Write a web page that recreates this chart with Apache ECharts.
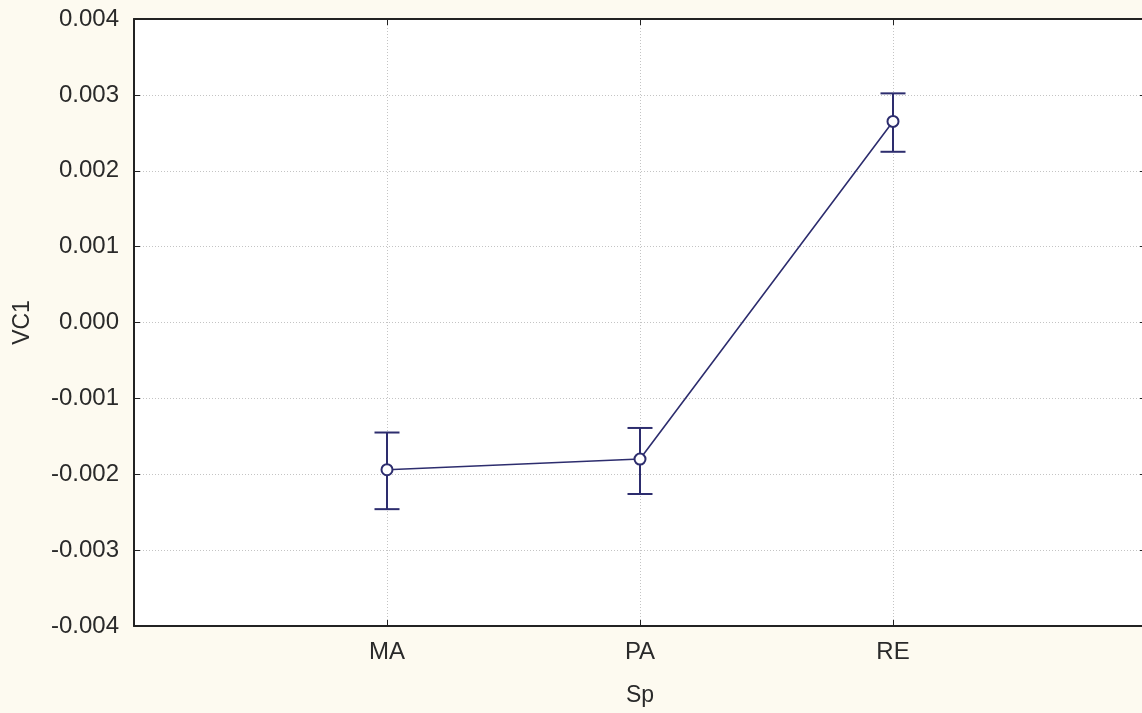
<!DOCTYPE html>
<html>
<head>
<meta charset="utf-8">
<script src="https://cdn.jsdelivr.net/npm/echarts@6/dist/echarts.min.js"></script>
<style>
html,body{margin:0;padding:0;background:#fdfaf0;}
#chart{width:1142px;height:713px;}
</style>
</head>
<body>
<div id="chart"></div>
<script>
const categories = ['MA', 'PA', 'RE'];
const catPositions = [1, 2, 3];
const means = [-0.00194, -0.00180, 0.00265];
const upper = [-0.00145, -0.00139, 0.00302];
const lower = [-0.00246, -0.00226, 0.00225];
const yTicks = [-0.004, -0.003, -0.002, -0.001, 0, 0.001, 0.002, 0.003, 0.004];

const navy = '#2d2d6e';
const chart = echarts.init(document.getElementById('chart'));

const meanData = catPositions.map((x, i) => [x, means[i]]);
const errData = catPositions.map((x, i) => [x, lower[i], upper[i]]);
const font = 'Liberation Sans';
const txt = '#2a2a2a';
const frameLine = { show: true, onZero: false, lineStyle: { color: '#222', width: 2 } };
const frameTick = { show: true, inside: true, length: 6, lineStyle: { color: '#222' } };

chart.setOption({
  backgroundColor: '#fdfaf0',
  animation: false,
  grid: { left: 134, top: 19, width: 1012, height: 607, outerBoundsMode: 'none', containLabel: false,
          show: true, backgroundColor: '#ffffff', borderWidth: 0 },
  xAxis: [{
    type: 'value', min: 0, max: 4, interval: 1,
    name: 'Sp', nameLocation: 'middle', nameGap: 58,
    nameTextStyle: { fontFamily: font, fontSize: 23, color: txt },
    axisLine: frameLine,
    axisTick: frameTick,
    axisLabel: {
      fontFamily: font, fontSize: 24, color: txt, margin: 14,
      formatter: v => { const i = catPositions.indexOf(v); return i >= 0 ? categories[i] : ''; }
    },
    splitLine: { show: true, lineStyle: { color: '#c4c4c4', type: [1, 2], width: 1 } }
  }, {
    type: 'value', position: 'top', min: 0, max: 4, interval: 1,
    axisLine: frameLine, axisTick: frameTick,
    axisLabel: { show: false }, splitLine: { show: false }
  }],
  yAxis: [{
    type: 'value', min: yTicks[0], max: yTicks[yTicks.length - 1], interval: 0.001,
    name: 'VC1', nameLocation: 'middle', nameGap: 100, nameRotate: 90,
    nameTextStyle: { fontFamily: font, fontSize: 23, color: txt },
    axisLine: frameLine,
    axisTick: frameTick,
    axisLabel: { fontFamily: font, fontSize: 24, color: txt, margin: 15,
      formatter: v => v.toFixed(3) },
    splitLine: { show: true, lineStyle: { color: '#c4c4c4', type: [1, 2], width: 1 } }
  }, {
    type: 'value', position: 'right', min: yTicks[0], max: yTicks[yTicks.length - 1], interval: 0.001,
    axisLine: frameLine, axisTick: frameTick,
    axisLabel: { show: false }, splitLine: { show: false }
  }],
  series: [{
    type: 'custom',
    data: errData,
    z: 2,
    renderItem: (params, api) => {
      const x = api.value(0);
      const lo = api.coord([x, api.value(1)]);
      const hi = api.coord([x, api.value(2)]);
      const hw = 12.5;
      const style = { stroke: navy, lineWidth: 2, fill: null };
      return { type: 'group', children: [
        { type: 'line', shape: { x1: lo[0], y1: lo[1], x2: hi[0], y2: hi[1] }, style },
        { type: 'line', shape: { x1: lo[0] - hw, y1: lo[1], x2: lo[0] + hw, y2: lo[1] }, style },
        { type: 'line', shape: { x1: hi[0] - hw, y1: hi[1], x2: hi[0] + hw, y2: hi[1] }, style }
      ]};
    }
  }, {
    type: 'line',
    data: meanData,
    z: 3,
    symbol: 'circle', symbolSize: 11,
    itemStyle: { color: '#ffffff', borderColor: navy, borderWidth: 2 },
    lineStyle: { color: navy, width: 1.6 }
  }]
});
</script>
</body>
</html>
